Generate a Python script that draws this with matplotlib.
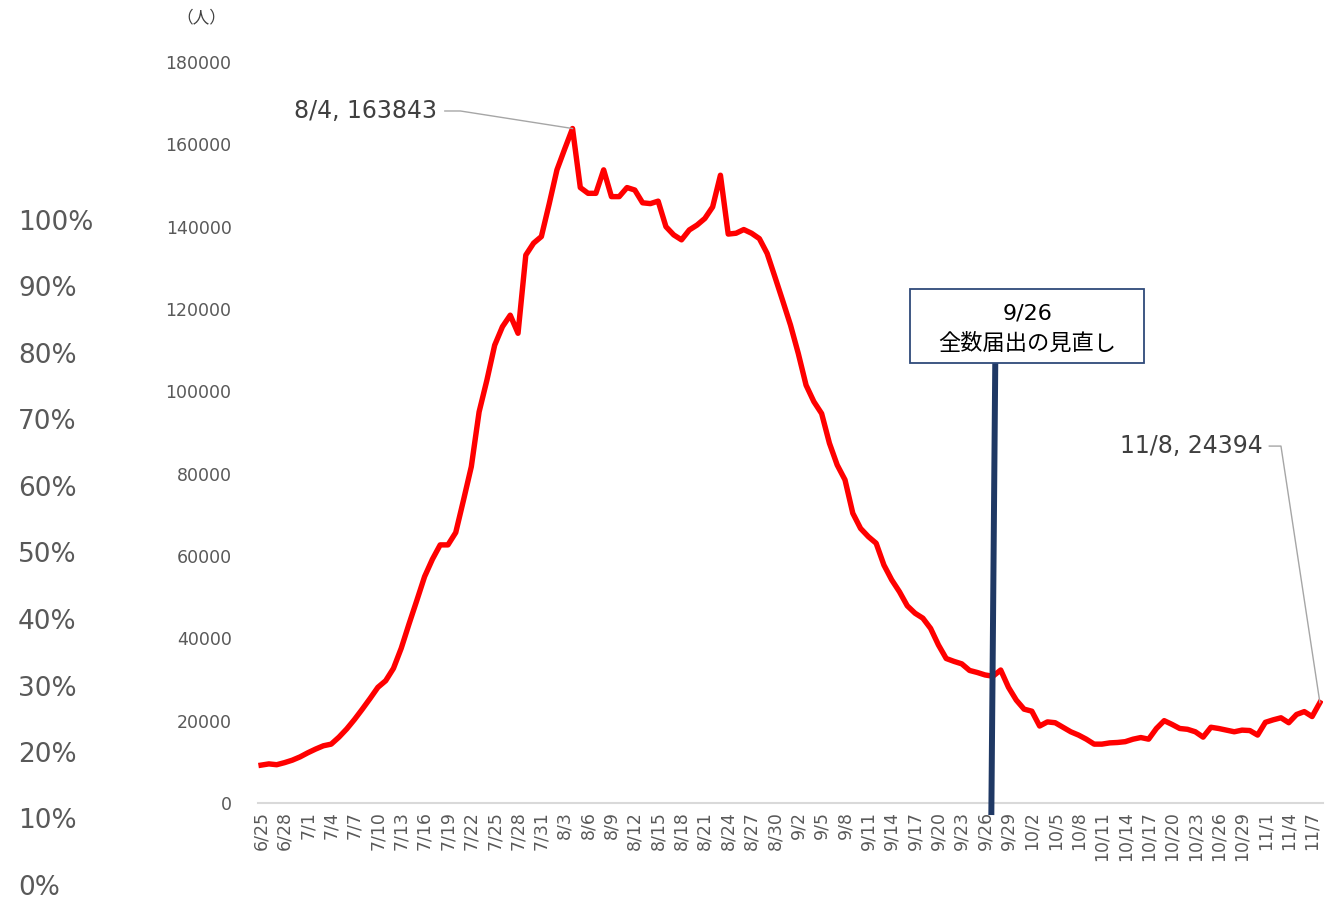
import numpy as np
import pandas as pd
import matplotlib
matplotlib.use("Agg")
import matplotlib.pyplot as plt
from matplotlib.patches import Rectangle

plt.rcParams['font.family'] = ['DejaVu Sans', 'Noto Sans CJK JP']

### daily new cases 6/25 - 11/8
dates = pd.date_range("2022-06-25", "2022-11-08", freq="D")
labels = [f"{d.month}/{d.day}" for d in dates]
cases = [
    9200, 9500, 9300, 9800, 10400, 11200, 12200, 13100, 13900, 14300,
    16000, 18000, 20300, 22800, 25400, 28100, 29700, 32700, 37600, 43500,
    49200, 55000, 59200, 62700, 62700, 65700, 73600, 81700, 95000, 102700,
    111200, 115700, 118500, 114100, 133100, 136000, 137600, 145500, 153800, 158900,
    163843, 149500, 148100, 148100, 153800, 147300, 147300, 149500, 148900, 145800,
    145600, 146200, 140000, 138000, 136800, 139200, 140400, 142000, 144800, 152500,
    138200, 138400, 139300, 138400, 137100, 133500, 127800, 122000, 116100, 109200,
    101500, 97500, 94600, 87400, 82100, 78500, 70400, 66700, 64700, 63100,
    57800, 54200, 51300, 47900, 46100, 44900, 42400, 38400, 35100, 34400,
    33800, 32200, 31700, 31100, 30800, 32300, 28100, 25000, 22800, 22300,
    18700, 19700, 19500, 18400, 17300, 16500, 15500, 14300, 14300, 14600,
    14700, 14900, 15500, 15900, 15500, 18100, 20000, 19100, 18100, 17900,
    17300, 16000, 18400, 18100, 17700, 17300, 17700, 17600, 16500, 19600,
    20200, 20700, 19500, 21500, 22200, 21000, 24394,
]
pct_ticks = np.arange(0, 1.01, 0.1)

x = np.arange(len(cases))
peak = int(np.argmax(cases))
last = len(cases) - 1

fig = plt.figure(figsize=(13.4, 8.99), dpi=100)
ax = fig.add_axes([258/1340, 1-803/899, 1065/1340, 741/899])

ax.plot(x, cases, color='#ff0000', lw=3.9, solid_joinstyle='round', zorder=3)

ax.set_xlim(-0.4, 136.4)
ax.set_ylim(0, 180000)
ax.set_yticks(np.arange(0, 180001, 20000))
ax.set_xticks(x[::3])
ax.set_xticklabels(labels[::3], rotation=90, va='top', ha='center')
ax.tick_params(axis='y', length=0, pad=19, labelsize=12.5, labelcolor='#595959')
ax.tick_params(axis='x', length=0, pad=6, labelsize=12.5, labelcolor='#595959')
for s in ['top', 'right', 'left']:
    ax.spines[s].set_visible(False)
ax.spines['bottom'].set_color('#d9d9d9')
ax.spines['bottom'].set_linewidth(1.5)

## data labels with leader lines
ax.text(22.6, 168100, f"{labels[peak]}, {cases[peak]}", ha='right', va='center',
        fontsize=17, color='#404040')
ax.plot([23.6, 25.6, peak], [168100, 168100, cases[peak]], color='#a6a6a6', lw=1, zorder=4)
ax.text(128.6, 86700, f"{labels[last]}, {cases[last]}", ha='right', va='center',
        fontsize=17, color='#404040')
ax.plot([129.5, 131.0, last], [86700, 86700, cases[last]], color='#a6a6a6', lw=1, zorder=4)

## 9/26 marker
ax.plot([94.3, 93.8], [106400, -2200], color='#1f3864', lw=4.3, clip_on=False, zorder=5)
ax.add_patch(Rectangle((83.4, 106900), 30.0, 18000, facecolor='white',
                       edgecolor='#2f4a7a', lw=1.3, zorder=6))
ax.text(98.4, 119000, "9/26", ha='center', va='center', fontsize=16, color='black', zorder=7)
ax.text(98.4, 111700, "全数届出の見直し", ha='center', va='center', fontsize=16,
        color='black', zorder=7)

fig.text(201/1340, 1-17/899, "（人）", ha='center', va='center', fontsize=12, color='#404040')

## percent scale on the far left
pax = fig.add_axes([18/1340, 1-885/899, 0.0001, 665/899])
pax.set_ylim(0, 1)
pax.set_yticks(pct_ticks)
pax.set_yticklabels([f"{int(round(v*100))}%" for v in pct_ticks])
pax.yaxis.tick_right()
pax.tick_params(axis='y', length=0, pad=0, labelsize=19, labelcolor='#595959')
pax.set_xticks([])
for s in pax.spines.values():
    s.set_visible(False)
pax.patch.set_visible(False)

fig.savefig("out.png", dpi=100)
